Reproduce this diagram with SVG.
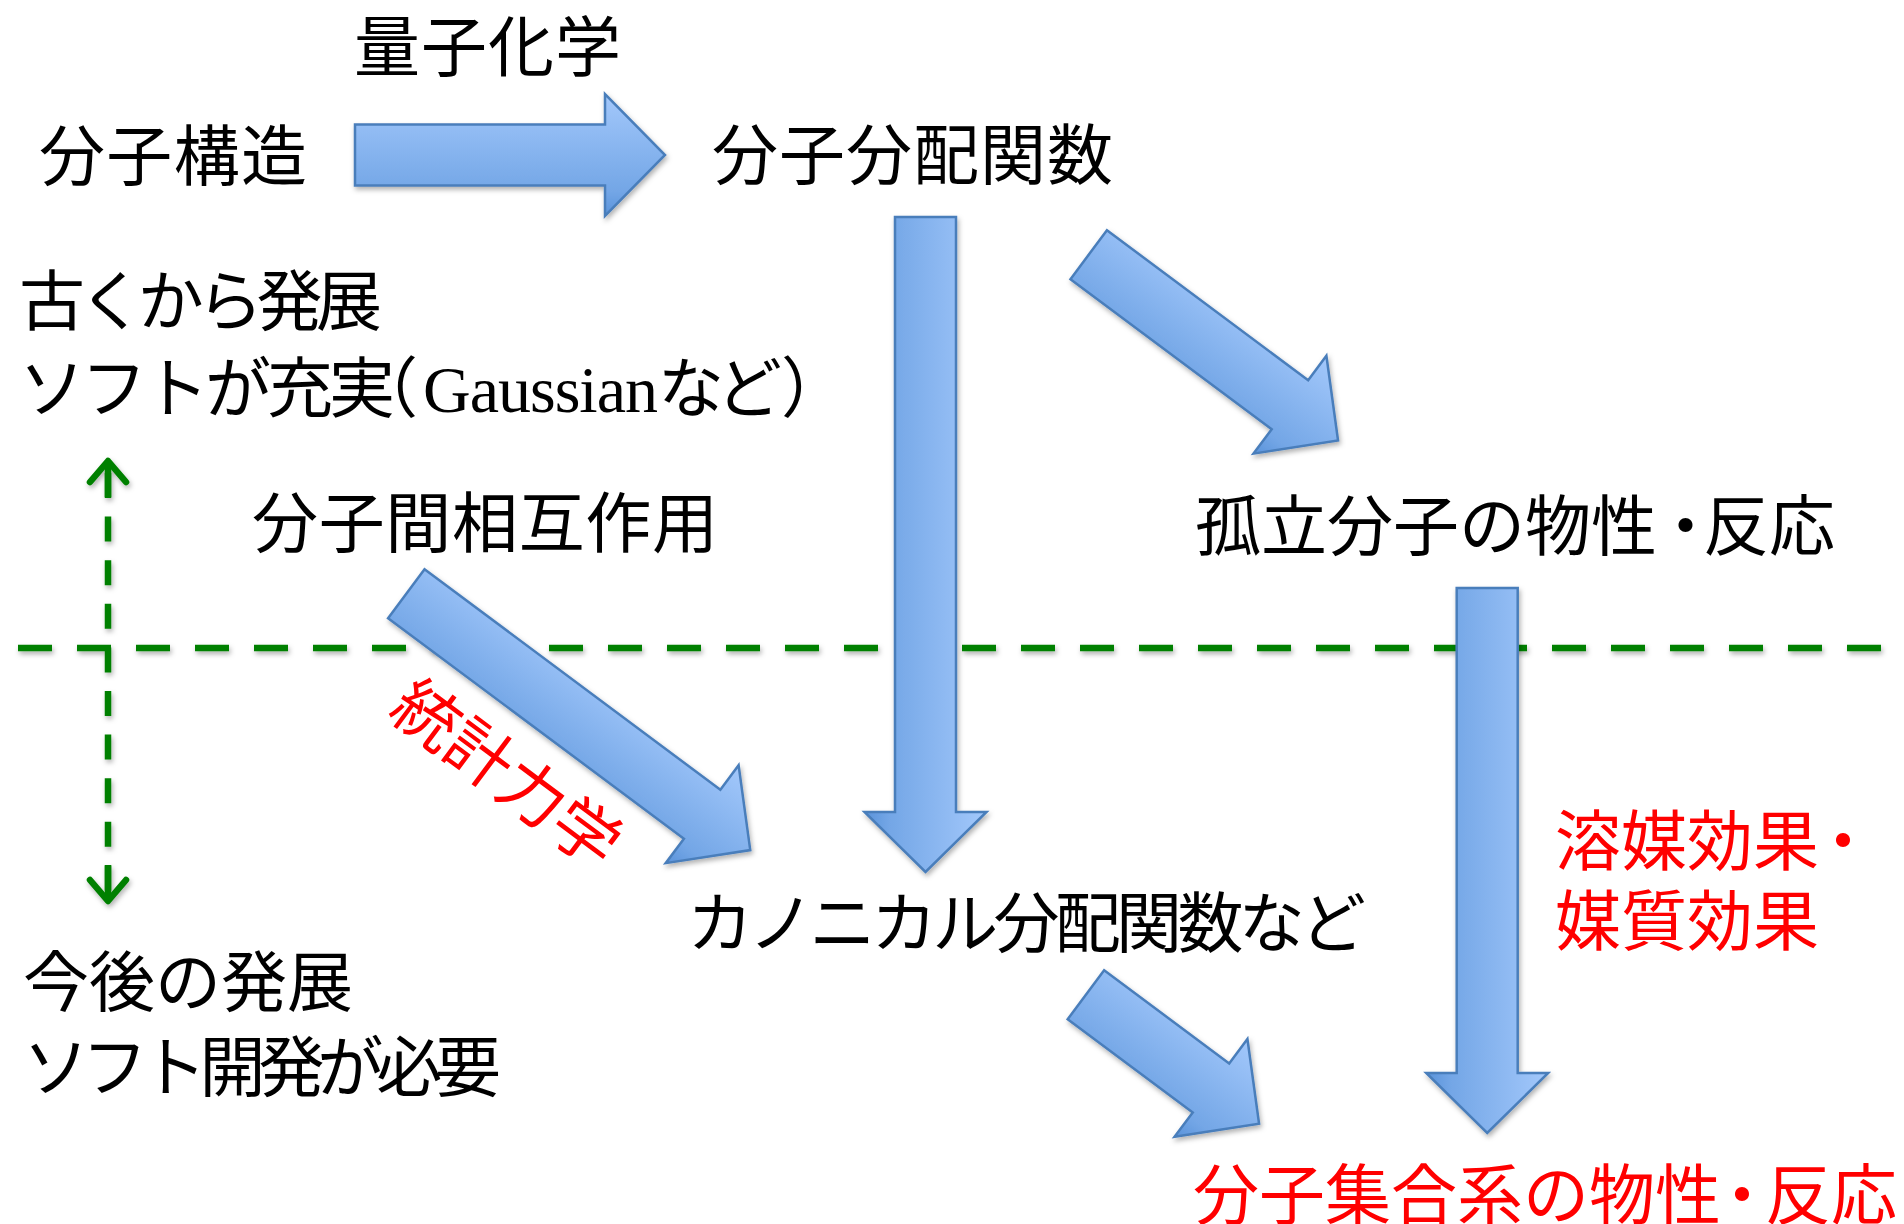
<svg xmlns="http://www.w3.org/2000/svg" width="1904" height="1224" viewBox="0 0 1904 1224">
<defs>
<linearGradient id="blueGrad" x1="0" y1="0" x2="0" y2="1">
<stop offset="0" stop-color="#A3C8FB"/>
<stop offset="0.8" stop-color="#73A6E6"/>
<stop offset="1" stop-color="#5A93DA"/>
</linearGradient>
<filter id="sh" x="-15%" y="-15%" width="130%" height="130%">
<feDropShadow dx="1.5" dy="3" stdDeviation="2.5" flood-color="#000" flood-opacity="0.3"/>
</filter>
</defs>
<style>
.arrow{fill:url(#blueGrad);stroke:#4A7EBB;stroke-width:2.5;stroke-linejoin:miter}
.t{font-family:'Noto Sans CJK JP','Noto Sans CJK SC',sans-serif;font-size:66px;fill:#000}
.red{fill:#FF0000}
.serif{font-family:'Liberation Serif',serif}
.green{stroke:#008000;stroke-width:6.5;fill:none}
</style>
<rect width="1904" height="1224" fill="#FFFFFF"/>

<g id="separators" filter="url(#sh)">
<line class="green" x1="18" y1="648" x2="1892" y2="648" stroke-dasharray="34 25"/>
<line class="green" x1="108" y1="473" x2="108" y2="895" stroke-dasharray="25 18.6"/>
<line class="green" x1="108" y1="461" x2="108" y2="497"/>
<line class="green" x1="108" y1="865" x2="108" y2="901"/>
<polyline class="green" points="90,482 108,461 126,482" stroke-linecap="round" stroke-linejoin="round"/>
<polyline class="green" points="90,880 108,901 126,880" stroke-linecap="round" stroke-linejoin="round"/>
</g>

<g id="connectors">
<g id="arrow-structure-to-partition" filter="url(#sh)">
<polygon class="arrow" transform="translate(355,155)" points="0,-30.5 250,-30.5 250,-61 310,0 250,61 250,30.5 0,30.5"/>
</g>
<g id="arrow-partition-to-canonical" filter="url(#sh)">
<polygon class="arrow" transform="translate(925.5,217) rotate(90)" points="0,-30.5 595,-30.5 595,-61 655,0 595,61 595,30.5 0,30.5"/>
</g>
<g id="arrow-partition-to-isolated" filter="url(#sh)">
<polygon class="arrow" transform="translate(1088.7,254.7) rotate(36.7)" points="0,-30.5 251,-30.5 251,-61 311,0 251,61 251,30.5 0,30.5"/>
</g>
<g id="arrow-interaction-to-canonical" filter="url(#sh)">
<polygon class="arrow" transform="translate(406.3,593.7) rotate(36.7)" points="0,-30.5 369,-30.5 369,-61 429,0 369,61 369,30.5 0,30.5"/>
</g>
<g id="arrow-canonical-to-assembly" filter="url(#sh)">
<polygon class="arrow" transform="translate(1085.9,994.7) rotate(36.7)" points="0,-30.5 156,-30.5 156,-61 216,0 156,61 156,30.5 0,30.5"/>
</g>
<g id="arrow-isolated-to-assembly" filter="url(#sh)">
<polygon class="arrow" transform="translate(1487.2,588) rotate(90)" points="0,-30.5 485,-30.5 485,-61 545,0 485,61 485,30.5 0,30.5"/>
</g>
</g>

<g id="label-quantum">
<text class="t" x="354" y="71" textLength="267" lengthAdjust="spacing">量子化学</text>
</g>
<g id="node-structure">
<text class="t" x="39" y="180" textLength="268" lengthAdjust="spacing">分子構造</text>
</g>
<g id="node-partition">
<text class="t" x="712" y="179" textLength="401" lengthAdjust="spacing">分子分配関数</text>
</g>
<g id="note-past">
<text class="t" x="19" y="325" textLength="363" lengthAdjust="spacing">古くから発展</text>
<text class="t" x="19" y="412" dx="0 -4 -4 -4 -4 -4 -43 5 -1 -1 -1 -1 -1 -1 -1 0 -8 -1">ソフトが充実（<tspan class="serif">Gaussian</tspan>など）</text>
</g>
<g id="node-interaction">
<text class="t" x="252" y="547" textLength="466" lengthAdjust="spacing">分子間相互作用</text>
</g>
<g id="node-isolated">
<text class="t" x="1195" y="550" dx="0 0 0 0 0 0 0 -4.5 -15.5 0">孤立分子の物性・反応</text>
</g>
<g id="label-statmech">
<text class="t red" transform="translate(507,773) rotate(36.7)" x="0" y="25" text-anchor="middle">統計力学</text>
</g>
<g id="node-canonical">
<text class="t" x="687" y="947" textLength="679" lengthAdjust="spacing">カノニカル分配関数など</text>
</g>
<g id="label-solvent">
<text class="t red" x="1555" y="865" dx="0 0 0 0 -9">溶媒効果・</text>
<text class="t red" x="1555" y="945">媒質効果</text>
</g>
<g id="note-future">
<text class="t" x="23" y="1006" textLength="330" lengthAdjust="spacing">今後の発展</text>
<text class="t" x="23" y="1091" textLength="478" lengthAdjust="spacing">ソフト開発が必要</text>
</g>
<g id="node-assembly">
<text class="t red" x="1193" y="1219" dx="0 0 0 0 0 0 0 0 -12 -10 0">分子集合系の物性・反応</text>
</g>
</svg>
